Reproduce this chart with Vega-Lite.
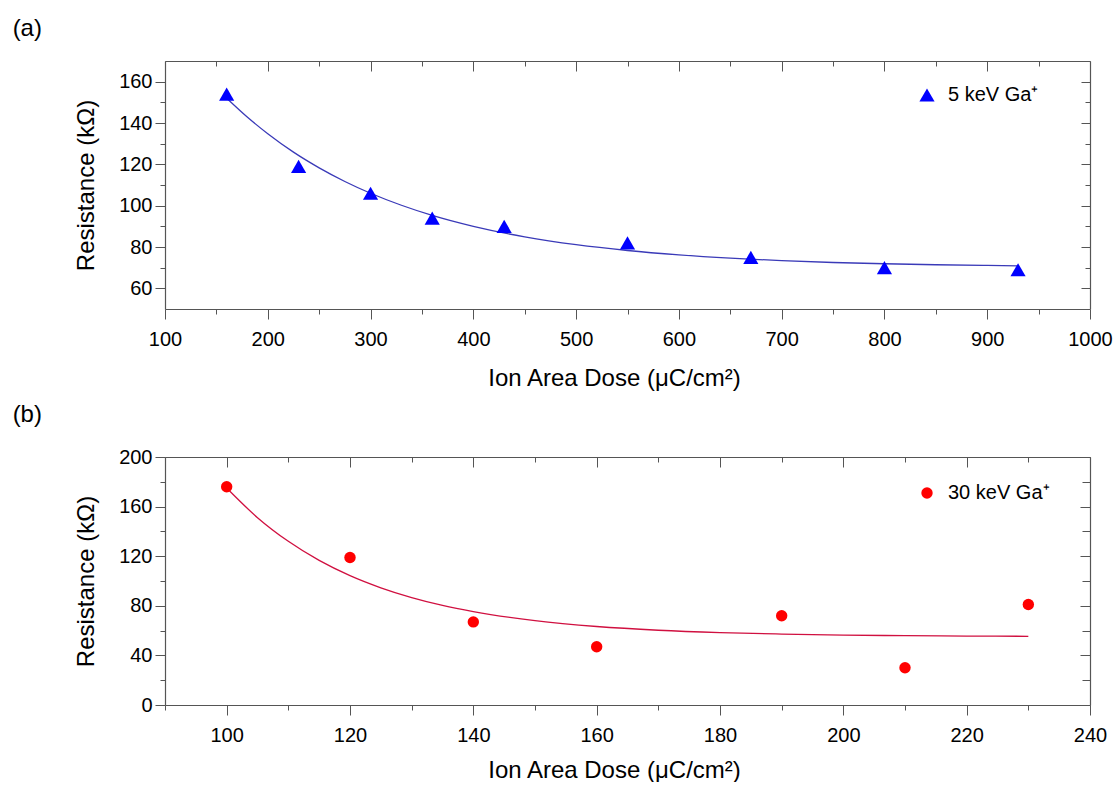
{
  "$schema": "https://vega.github.io/schema/vega-lite/v6.json",
  "padding": {"left": 12, "top": 16, "right": 4, "bottom": 0},
  "background": "white",
  "spacing": 13,
  "datasets": {
    "a_pts": [
      {"dose": 160, "r": 154, "series": "5 keV Ga⁺"},
      {"dose": 230, "r": 119, "series": "5 keV Ga⁺"},
      {"dose": 300, "r": 106, "series": "5 keV Ga⁺"},
      {"dose": 360, "r": 94, "series": "5 keV Ga⁺"},
      {"dose": 430, "r": 90, "series": "5 keV Ga⁺"},
      {"dose": 550, "r": 82, "series": "5 keV Ga⁺"},
      {"dose": 670, "r": 75, "series": "5 keV Ga⁺"},
      {"dose": 800, "r": 70, "series": "5 keV Ga⁺"},
      {"dose": 930, "r": 69, "series": "5 keV Ga⁺"}
    ],
    "a_fit": [
      {"dose": 160, "r": 152},
      {"dose": 180, "r": 142.9},
      {"dose": 200, "r": 134.8},
      {"dose": 225, "r": 125.9},
      {"dose": 250, "r": 118.3},
      {"dose": 275, "r": 111.7},
      {"dose": 300, "r": 106.0},
      {"dose": 330, "r": 100.2},
      {"dose": 360, "r": 95.3},
      {"dose": 400, "r": 90.0},
      {"dose": 450, "r": 84.9},
      {"dose": 500, "r": 81.1},
      {"dose": 550, "r": 78.3},
      {"dose": 600, "r": 76.2},
      {"dose": 650, "r": 74.6},
      {"dose": 700, "r": 73.4},
      {"dose": 750, "r": 72.5},
      {"dose": 800, "r": 71.9},
      {"dose": 850, "r": 71.4},
      {"dose": 900, "r": 71.1},
      {"dose": 930, "r": 70.9}
    ],
    "b_pts": [
      {"dose": 100, "r": 176, "series": "30 keV Ga⁺"},
      {"dose": 120, "r": 119, "series": "30 keV Ga⁺"},
      {"dose": 140, "r": 67, "series": "30 keV Ga⁺"},
      {"dose": 160, "r": 47, "series": "30 keV Ga⁺"},
      {"dose": 190, "r": 72, "series": "30 keV Ga⁺"},
      {"dose": 210, "r": 30, "series": "30 keV Ga⁺"},
      {"dose": 230, "r": 81, "series": "30 keV Ga⁺"}
    ],
    "b_fit": [
      {"dose": 100, "r": 175},
      {"dose": 105, "r": 151.1},
      {"dose": 110, "r": 132},
      {"dose": 115, "r": 116.6},
      {"dose": 120, "r": 104.3},
      {"dose": 125, "r": 94.5},
      {"dose": 130, "r": 86.6},
      {"dose": 135, "r": 80.3},
      {"dose": 140, "r": 75.3},
      {"dose": 150, "r": 68.0},
      {"dose": 160, "r": 63.3},
      {"dose": 170, "r": 60.3},
      {"dose": 180, "r": 58.4},
      {"dose": 190, "r": 57.2},
      {"dose": 200, "r": 56.4},
      {"dose": 210, "r": 55.9},
      {"dose": 220, "r": 55.6},
      {"dose": 230, "r": 55.4}
    ]
  },
  "vconcat": [
    {
      "width": 925,
      "height": 248,
      "title": {"text": "(a)", "anchor": "start", "frame": "bounds", "dx": -62, "offset": 20, "fontSize": 24, "fontWeight": "normal", "font": "Liberation Sans", "color": "#000"},
      "resolve": {"axis": {"x": "independent", "y": "independent"}},
      "layer": [
        {
          "data": {"name": "a_fit"},
          "mark": {"type": "line", "color": "#3a3ab8", "strokeWidth": 1.3, "interpolate": "monotone"},
          "encoding": {
            "x": {"field": "dose", "type": "quantitative", "scale": {"domain": [100, 1000], "nice": false, "zero": false},
              "axis": {"orient": "top", "title": null, "labels": false, "values": [100,150,200,250,300,350,400,450,500,550,600,650,700,750,800,850,900,950,1000],
                "tickSize": {"condition": {"test": "datum.value % 100 === 0", "value": -10}, "value": -5}}},
            "y": {"field": "r", "type": "quantitative", "scale": {"domain": [50, 170], "nice": false, "zero": false},
              "axis": {"orient": "right", "title": null, "labels": false, "values": [60,70,80,90,100,110,120,130,140,150,160],
                "tickSize": {"condition": {"test": "datum.value % 20 === 0", "value": -9}, "value": -5}}}
          }
        },
        {
          "data": {"name": "a_pts"},
          "mark": {"type": "point", "shape": "triangle-up", "filled": true, "size": 230, "opacity": 1},
          "encoding": {
            "x": {"field": "dose", "type": "quantitative", "scale": {"domain": [100, 1000], "nice": false, "zero": false},
              "axis": {"orient": "bottom", "title": "Ion Area Dose (μC/cm²)", "format": "d", "titleX": 449, "values": [100,150,200,250,300,350,400,450,500,550,600,650,700,750,800,850,900,950,1000],
                "labelExpr": "datum.value % 100 === 0 ? datum.label : ''",
                "tickSize": {"condition": {"test": "datum.value % 100 === 0", "value": 10}, "value": 5}}},
            "y": {"field": "r", "type": "quantitative", "scale": {"domain": [50, 170], "nice": false, "zero": false},
              "axis": {"orient": "left", "title": "Resistance (kΩ)", "values": [60,70,80,90,100,110,120,130,140,150,160],
                "labelExpr": "datum.value % 20 === 0 ? datum.label : ''",
                "tickSize": {"condition": {"test": "datum.value % 20 === 0", "value": 10}, "value": 5}}},
            "color": {"field": "series", "type": "nominal", "scale": {"range": ["#0000ff"]},
              "legend": {"title": null, "orient": "none", "legendX": 752, "legendY": 24, "symbolType": "triangle-up", "symbolSize": 230, "labelFontSize": 20, "labelOffset": 11, "labelFont": "Liberation Sans", "labelColor": "#000"}}
          }
        }
      ]
    },
    {
      "width": 925,
      "height": 248,
      "title": {"text": "(b)", "anchor": "start", "frame": "bounds", "dx": -62, "offset": 20, "fontSize": 24, "fontWeight": "normal", "font": "Liberation Sans", "color": "#000"},
      "resolve": {"axis": {"x": "independent", "y": "independent"}},
      "layer": [
        {
          "data": {"name": "b_fit"},
          "mark": {"type": "line", "color": "#d01040", "strokeWidth": 1.3, "interpolate": "monotone"},
          "encoding": {
            "x": {"field": "dose", "type": "quantitative", "scale": {"domain": [90, 240], "nice": false, "zero": false},
              "axis": {"orient": "top", "title": null, "labels": false, "values": [90,100,110,120,130,140,150,160,170,180,190,200,210,220,230,240],
                "tickSize": {"condition": {"test": "datum.value % 20 === 0", "value": -10}, "value": -5}}},
            "y": {"field": "r", "type": "quantitative", "scale": {"domain": [0, 200], "nice": false},
              "axis": {"orient": "right", "title": null, "labels": false, "values": [0,20,40,60,80,100,120,140,160,180,200],
                "tickSize": {"condition": {"test": "datum.value % 40 === 0", "value": -10}, "value": -8}}}
          }
        },
        {
          "data": {"name": "b_pts"},
          "mark": {"type": "point", "shape": "circle", "filled": true, "size": 130, "opacity": 1},
          "encoding": {
            "x": {"field": "dose", "type": "quantitative", "scale": {"domain": [90, 240], "nice": false, "zero": false},
              "axis": {"orient": "bottom", "title": "Ion Area Dose (μC/cm²)", "titleX": 449, "titlePadding": 13, "values": [90,100,110,120,130,140,150,160,170,180,190,200,210,220,230,240],
                "labelExpr": "datum.value % 20 === 0 && datum.value >= 100 ? datum.label : ''",
                "tickSize": {"condition": {"test": "datum.value % 20 === 0", "value": 10}, "value": 5}}},
            "y": {"field": "r", "type": "quantitative", "scale": {"domain": [0, 200], "nice": false},
              "axis": {"orient": "left", "title": "Resistance (kΩ)", "values": [0,20,40,60,80,100,120,140,160,180,200],
                "labelExpr": "datum.value % 40 === 0 ? datum.label : ''",
                "tickSize": {"condition": {"test": "datum.value % 40 === 0", "value": 10}, "value": 5}}},
            "color": {"field": "series", "type": "nominal", "scale": {"range": ["#ff0000"]},
              "legend": {"title": null, "orient": "none", "legendX": 752, "legendY": 26, "symbolType": "circle", "symbolSize": 130, "labelFontSize": 20, "labelOffset": 11, "labelFont": "Liberation Sans", "labelColor": "#000"}}
          }
        }
      ]
    }
  ],
  "resolve": {"scale": {"color": "independent"}, "legend": {"color": "independent"}},
  "config": {
    "view": {"stroke": null},
    "axis": {
      "grid": false,
      "domainColor": "#555",
      "domainWidth": 1.2,
      "tickColor": "#555",
      "tickWidth": 1,
      "labelFont": "Liberation Sans",
      "labelFontSize": 20,
      "labelColor": "#000",
      "titleFont": "Liberation Sans",
      "titleFontSize": 24,
      "titleFontWeight": "normal",
      "titleColor": "#000"
    },
    "axisX": {"labelPadding": 10, "titlePadding": 17, "labelFlush": false, "labelOverlap": false},
    "axisY": {"labelPadding": 3, "titlePadding": 20, "labelOverlap": false}
  }
}
